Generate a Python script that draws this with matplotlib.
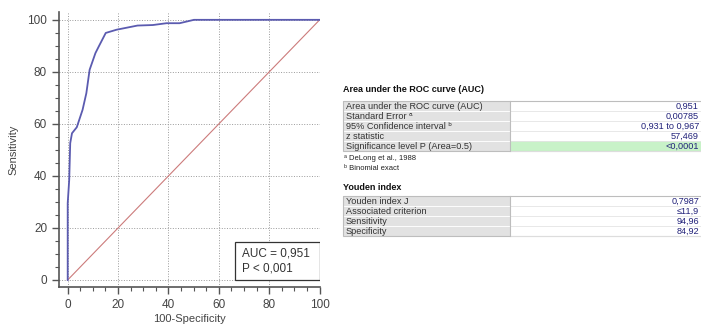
import matplotlib
matplotlib.use('Agg')
import matplotlib.pyplot as plt
from matplotlib.patches import Rectangle
from matplotlib.ticker import MultipleLocator

plt.rcParams['font.family'] = ['Liberation Sans', 'DejaVu Sans']

# ROC curve (100-Specificity, Sensitivity)
fpr = [0, 0, 0.6, 1.0, 1.7, 3.6, 5.9, 7.4, 8.7, 11.0, 12.3, 15.1, 19.4, 27.7, 33.8, 39.2, 44.4, 50.1, 100]
tpr = [0, 29.5, 38.5, 52.6, 56.4, 58.7, 65.4, 71.8, 80.8, 87.2, 89.7, 94.96, 96.2, 97.8, 98.0, 98.7, 98.7, 100, 100]
diag = [0, 100]

auc_text = 'AUC = 0,951\nP < 0,001'

auc_title = 'Area under the ROC curve (AUC)'
auc_labels = ['Area under the ROC curve (AUC)', 'Standard Error \u1d43',
              '95% Confidence interval \u1d47', 'z statistic',
              'Significance level P (Area=0.5)']
auc_values = ['0,951', '0,00785', '0,931 to 0,967', '57,469', '<0,0001']
footnotes = ['\u1d43 DeLong et al., 1988', '\u1d47 Binomial exact']

youden_title = 'Youden index'
youden_labels = ['Youden index J', 'Associated criterion', 'Sensitivity', 'Specificity']
youden_values = ['0,7987', '\u226411,9', '94,96', '84,92']

fig = plt.figure(figsize=(7.01, 3.25), dpi=100)

# ---- ROC plot ----
ax = fig.add_axes([0.084, 0.117, 0.372, 0.846])
ax.plot(diag, diag, color='#cc7b7b', lw=0.8, zorder=2)
ax.plot(fpr, tpr, color='#5b5bb0', lw=1.3, zorder=3)
ax.set_xlim(-3.5, 100)
ax.set_ylim(-2.7, 103)
ax.xaxis.set_minor_locator(MultipleLocator(5))
ax.yaxis.set_minor_locator(MultipleLocator(5))
ax.set_xticks(range(0, 101, 20))
ax.set_yticks(range(0, 101, 20))
ax.grid(which='major', linestyle=':', color='#9a9a9a', lw=0.7)
for s in ['top', 'right']:
    ax.spines[s].set_visible(False)
for s in ['left', 'bottom']:
    ax.spines[s].set_color('#555555')
    ax.spines[s].set_linewidth(1.2)
ax.tick_params(which='major', length=5, width=1.0, color='#555555',
               labelsize=8.5, labelcolor='#444444')
ax.tick_params(which='minor', length=3, width=0.8, color='#555555')
ax.set_xlabel('100-Specificity', fontsize=8, color='#444444', labelpad=2)
ax.set_ylabel('Sensitivity', fontsize=8, color='#444444', labelpad=6)

ax.add_patch(Rectangle((66.5, 0), 33.5, 14.4, facecolor='white',
                       edgecolor='#333333', lw=0.9, zorder=4))
ax.text(69, 7.2, auc_text, fontsize=8.5, color='#333333', va='center',
        ha='left', linespacing=1.3, zorder=5)

# ---- result tables (pixel coordinates) ----
tab = fig.add_axes([0, 0, 1, 1])
tab.set_xlim(0, 701)
tab.set_ylim(325, 0)
tab.axis('off')

x0, xs, x1 = 343, 510, 701
rh = 10
lab_bg = '#e2e2e2'
line_c = '#bdbdbd'
val_c = '#22227a'


def draw_table(top, labels, values, highlight=None):
    for i, (lab, val) in enumerate(zip(labels, values)):
        y = top + i * rh
        tab.add_patch(Rectangle((x0, y), xs - x0, rh, facecolor=lab_bg,
                                edgecolor='white', lw=0.6))
        vbg = '#c8f2c8' if highlight == i else 'white'
        tab.add_patch(Rectangle((xs, y), x1 - xs + 5, rh, facecolor=vbg,
                                edgecolor='none'))
        tab.plot([xs, x1], [y + rh, y + rh], color='#e4e4e4', lw=0.6)
        tab.text(x0 + 3, y + rh / 2 + 0.3, lab, fontsize=6.6, color='#333333',
                 va='center', ha='left')
        tab.text(x1 - 2, y + rh / 2 + 0.3, val, fontsize=6.6, color=val_c,
                 va='center', ha='right')
    n = len(labels)
    tab.add_patch(Rectangle((x0, top), x1 - x0 + 5, n * rh, facecolor='none',
                            edgecolor=line_c, lw=0.8))
    tab.plot([xs, xs], [top, top + n * rh], color=line_c, lw=0.8)


tab.text(x0, 90, auc_title, fontsize=6.5, fontweight='bold', color='#111111',
         va='center', ha='left')
draw_table(101, auc_labels, auc_values, highlight=4)
tab.text(x0 + 1, 158, footnotes[0], fontsize=5.5, color='#222222', va='center')
tab.text(x0 + 1, 168, footnotes[1], fontsize=5.5, color='#222222', va='center')

tab.text(x0, 187, youden_title, fontsize=6.5, fontweight='bold', color='#111111',
         va='center', ha='left')
draw_table(196, youden_labels, youden_values)

fig.savefig('out.png', dpi=100)
